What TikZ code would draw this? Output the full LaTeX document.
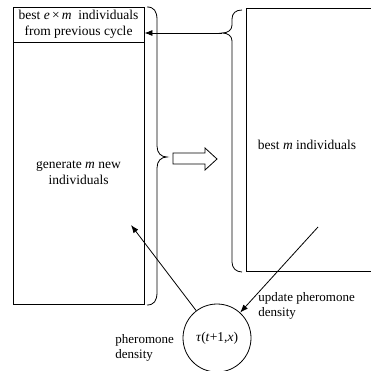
\documentclass[tikz,border=0pt]{standalone}
\usepackage{fontspec}
\setmainfont{Liberation Serif}
\usetikzlibrary{arrows.meta}

\begin{document}
\begin{tikzpicture}
  [x=1pt,y=-1pt,line width=.8pt,
   box/.style={draw,rectangle,inner sep=0pt,align=center,font=\fontsize{13.5}{16}\selectfont},
   lbl/.style={align=left,inner sep=0pt,anchor=west,font=\fontsize{13}{15}\selectfont},
   arr/.style={-{Latex[length=8pt,width=6pt]}}]
  \useasboundingbox (0,0) rectangle (371,371);

  \node[box,minimum width=131pt,minimum height=35pt] (prev) at (78.5,24.5)
    {best \textit{e}\,×\,\textit{m}\ \ individuals\\from previous cycle};
  \node[box,minimum width=131pt,minimum height=262pt] (gen) at (78.5,173)
    {generate \textit{m} new\\individuals};
  \node[box,minimum width=130pt,minimum height=263pt] (best) at (311,139.5) {};
  \node[box,draw=none] (bestlbl) at (307,145) {best \textit{m} individuals};
  \node[box,circle,minimum size=68pt] (tau) at (217,338)
    {\textit{τ}(\textit{t}+1,\textit{x})};

  \node[lbl] (upd) at (258,305.5) {update pheromone\\density};
  \node[lbl] (dens) at (115,347.5) {pheromone\\density};

  \coordinate (ltip) at (167,157);
  \coordinate (rtip) at (222,33);
  \coordinate (gentip) at (131,225);
  \coordinate (bestsrc) at (318,227);

  % braces
  \draw (147,7) .. controls (154,7) and (157,11) .. (157,20) -- (157,146)
    .. controls (157,153) and (161,157) .. (ltip)
    .. controls (161,157) and (157,161) .. (157,168) -- (157,292)
    .. controls (157,301) and (154,305) .. (147,305);
  \draw (242,10) .. controls (236,10) and (232,13) .. (232,19) -- (232,25)
    .. controls (232,30) and (228,33) .. (rtip)
    .. controls (228,33) and (232,36) .. (232,41) -- (232,262)
    .. controls (232,268) and (236,272) .. (242,272);

  % hollow arrow
  \draw (173,153) -- (205,153) -- (205,148) -- (217,159) -- (205,170)
    -- (205,164) -- (173,164) -- cycle;

  \draw[arr] (rtip) to (prev.east |- rtip);
  \draw[arr] (tau) to (gentip);
  \draw[arr] (bestsrc) to (tau);
\end{tikzpicture}
\end{document}
